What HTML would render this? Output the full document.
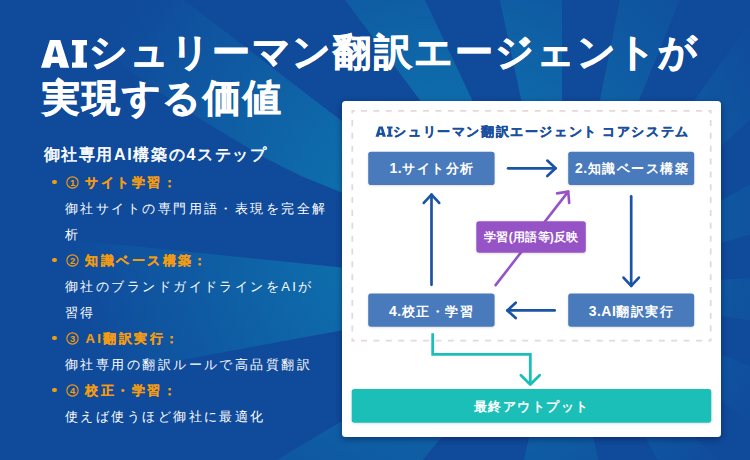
<!DOCTYPE html>
<html lang="ja">
<head>
<meta charset="utf-8">
<title>AIシュリーマン翻訳エージェントが実現する価値</title>
<style>
html,body{margin:0;padding:0;}
body{width:750px;height:460px;overflow:hidden;background:#104a9b;position:relative;font-family:"Liberation Sans",sans-serif;color:#fff;}
#bg{position:absolute;left:0;top:0;width:750px;height:460px;display:block;}
.t{position:absolute;white-space:nowrap;margin:0;}
.title{font-size:38px;font-weight:700;letter-spacing:0;line-height:44px;height:44px;}
.title b{-webkit-text-stroke:0.75px #fff;display:inline-block;text-align:center;font-weight:700;}
.l1 b{width:40.6px;}
.l2 b{width:40.3px;}
#ai{position:absolute;left:41px;top:39.8px;width:50px;height:28px;display:block;}
.sub{left:43.5px;top:143px;font-size:16px;font-weight:400;letter-spacing:1.65px;line-height:24px;-webkit-text-stroke:0.6px #fff;}
.sub b{font-weight:700;-webkit-text-stroke:0;}
.cn{position:absolute;left:65.5px;width:13px;height:13px;display:block;}
.h{left:85.4px;font-size:13px;font-weight:700;letter-spacing:2.44px;line-height:26px;color:#f39c12;-webkit-text-stroke:0.15px #f39c12;}
.d{left:65px;font-size:13px;font-weight:400;letter-spacing:2.44px;line-height:26px;color:#fff;}
.b{position:absolute;left:52.2px;width:4.4px;height:4.4px;border-radius:50%;background:#f39c12;}
#card{position:absolute;left:342px;top:101px;width:379px;height:336.3px;background:#fff;border-radius:3.5px;box-shadow:0 2px 6px rgba(0,8,40,.42);}
#dia{position:absolute;left:0;top:0;width:750px;height:460px;display:block;}
#dia text{font-family:"Liberation Sans",sans-serif;font-weight:700;}
</style>
</head>
<body>
<svg id="bg" viewBox="0 0 750 460">
<defs>
<radialGradient id="glow" gradientUnits="userSpaceOnUse" cx="440" cy="225" r="380">
<stop offset="0" stop-color="#0d7cb2"/><stop offset="1" stop-color="#104a9b"/>
</radialGradient>
</defs>
<rect width="750" height="460" fill="#104a9b"/>
<g fill="url(#glow)">
<polygon points="562,290 769.9,1268.1 343.9,1265.9"/>
<polygon points="562,290 -71.4,1063.8 -297.0,802.0"/>
<polygon points="562,290 -421.6,470.5 -432.8,188.1"/>
<polygon points="562,290 500,258 420,224 341.7,192.6 301,176 268,159.6 246,146.4 202,120 150,86 100,48 -200,-200 -231.4,-318.8"/>
<polygon points="562,290 -37.0,-510.7 134.6,-614.1"/>
<polygon points="562,290 352.4,-687.8 562.0,-710.0"/>
<polygon points="562,290 757.9,-690.6 938.2,-636.5"/>
<polygon points="562,290 1135.6,-529.2 1303.3,-381.1"/>
<polygon points="562,290 1434.0,-199.6 1521.0,6.5"/>
<polygon points="562,290 1560.0,226.8 1549.1,450.3"/>
<polygon points="562,290 1488.7,665.7 1382.0,862.3"/>
<polygon points="562,290 1234.3,1030.3 1052.9,1161.2"/>
</g>
</svg>

<svg id="ai" viewBox="0 0 50 28" aria-label="AI">
<path fill="#fff" fill-rule="evenodd" d="M0 27.8L8.9 0H19.3L28.2 27.8H19.2L17.7 23H10.5L9 27.8ZM14.1 5.6L17.1 16.8H11.1Z"/>
<path fill="#fff" d="M31 0H46V5.2H42.4V22.6H46V27.8H31V22.6H34.6V5.2H31Z"/>
</svg>
<div class="t title l1" style="left:88.6px;top:29.5px"><b>シ</b><b>ュ</b><b>リ</b><b>ー</b><b>マ</b><b>ン</b><b>翻</b><b>訳</b><b>エ</b><b>ー</b><b>ジ</b><b>ェ</b><b>ン</b><b>ト</b><b>が</b></div>
<div class="t title l2" style="left:40.8px;top:75.5px"><b>実</b><b>現</b><b>す</b><b>る</b><b>価</b><b>値</b></div>

<div class="t sub">御社専用<b>AI</b>構築の<b>4</b>ステップ</div>

<i class="b" style="top:179.7px"></i>
<svg class="cn" style="top:175.8px" viewBox="0 0 13 13"><circle cx="6.5" cy="6.5" r="5.65" fill="none" stroke="#f39c12" stroke-width="1.1"/><text x="6.5" y="9.8" text-anchor="middle" font-size="9.4" font-weight="700" fill="#f39c12" font-family="Liberation Sans,sans-serif">1</text></svg>
<div class="t h" style="top:170px">サイト学習：</div>
<div class="t d" style="top:196px">御社サイトの専門用語・表現を完全解</div>
<div class="t d" style="top:222px">析</div>
<i class="b" style="top:257.7px"></i>
<svg class="cn" style="top:253.8px" viewBox="0 0 13 13"><circle cx="6.5" cy="6.5" r="5.65" fill="none" stroke="#f39c12" stroke-width="1.1"/><text x="6.5" y="9.8" text-anchor="middle" font-size="9.4" font-weight="700" fill="#f39c12" font-family="Liberation Sans,sans-serif">2</text></svg>
<div class="t h" style="top:248px">知識ベース構築：</div>
<div class="t d" style="top:274px">御社のブランドガイドラインをAIが</div>
<div class="t d" style="top:300px">習得</div>
<i class="b" style="top:335.7px"></i>
<svg class="cn" style="top:331.8px" viewBox="0 0 13 13"><circle cx="6.5" cy="6.5" r="5.65" fill="none" stroke="#f39c12" stroke-width="1.1"/><text x="6.5" y="9.8" text-anchor="middle" font-size="9.4" font-weight="700" fill="#f39c12" font-family="Liberation Sans,sans-serif">3</text></svg>
<div class="t h" style="top:326px">AI翻訳実行：</div>
<div class="t d" style="top:352px">御社専用の翻訳ルールで高品質翻訳</div>
<i class="b" style="top:387.7px"></i>
<svg class="cn" style="top:383.8px" viewBox="0 0 13 13"><circle cx="6.5" cy="6.5" r="5.65" fill="none" stroke="#f39c12" stroke-width="1.1"/><text x="6.5" y="9.8" text-anchor="middle" font-size="9.4" font-weight="700" fill="#f39c12" font-family="Liberation Sans,sans-serif">4</text></svg>
<div class="t h" style="top:378px">校正・学習：</div>
<div class="t d" style="top:404px">使えば使うほど御社に最適化</div>

<div id="card"></div>
<svg id="dia" viewBox="0 0 750 460">
<defs><filter id="bs" x="-5%" y="-20%" width="110%" height="150%"><feDropShadow dx="0" dy="0.8" stdDeviation="0.8" flood-color="#000" flood-opacity="0.14"/></filter></defs>
<rect x="352.29999999999995" y="110.9" width="358.40000000000003" height="229.8" fill="#ffffff"/><path d="M351.40 110.90H354.80M708.20 110.90H711.60M361.00 110.90H367.00M373.41 110.90H379.41M385.81 110.90H391.81M398.22 110.90H404.22M410.63 110.90H416.63M423.04 110.90H429.04M435.44 110.90H441.44M447.85 110.90H453.85M460.26 110.90H466.26M472.67 110.90H478.67M485.07 110.90H491.07M497.48 110.90H503.48M509.89 110.90H515.89M522.30 110.90H528.30M534.70 110.90H540.70M547.11 110.90H553.11M559.52 110.90H565.52M571.93 110.90H577.93M584.33 110.90H590.33M596.74 110.90H602.74M609.15 110.90H615.15M621.56 110.90H627.56M633.96 110.90H639.96M646.37 110.90H652.37M658.78 110.90H664.78M671.19 110.90H677.19M683.59 110.90H689.59M696.00 110.90H702.00M351.40 340.70H354.80M708.20 340.70H711.60M361.00 340.70H367.00M373.41 340.70H379.41M385.81 340.70H391.81M398.22 340.70H404.22M410.63 340.70H416.63M423.04 340.70H429.04M435.44 340.70H441.44M447.85 340.70H453.85M460.26 340.70H466.26M472.67 340.70H478.67M485.07 340.70H491.07M497.48 340.70H503.48M509.89 340.70H515.89M522.30 340.70H528.30M534.70 340.70H540.70M547.11 340.70H553.11M559.52 340.70H565.52M571.93 340.70H577.93M584.33 340.70H590.33M596.74 340.70H602.74M609.15 340.70H615.15M621.56 340.70H627.56M633.96 340.70H639.96M646.37 340.70H652.37M658.78 340.70H664.78M671.19 340.70H677.19M683.59 340.70H689.59M696.00 340.70H702.00M352.30 110.00V113.40M352.30 338.20V341.60M352.30 120.00V126.00M352.30 132.85V138.85M352.30 145.70V151.70M352.30 158.55V164.55M352.30 171.40V177.40M352.30 184.25V190.25M352.30 197.10V203.10M352.30 209.95V215.95M352.30 222.80V228.80M352.30 235.65V241.65M352.30 248.50V254.50M352.30 261.35V267.35M352.30 274.20V280.20M352.30 287.05V293.05M352.30 299.90V305.90M352.30 312.75V318.75M352.30 325.60V331.60M710.70 110.00V113.40M710.70 338.20V341.60M710.70 120.00V126.00M710.70 132.85V138.85M710.70 145.70V151.70M710.70 158.55V164.55M710.70 171.40V177.40M710.70 184.25V190.25M710.70 197.10V203.10M710.70 209.95V215.95M710.70 222.80V228.80M710.70 235.65V241.65M710.70 248.50V254.50M710.70 261.35V267.35M710.70 274.20V280.20M710.70 287.05V293.05M710.70 299.90V305.90M710.70 312.75V318.75M710.70 325.60V331.60" fill="none" stroke="#e3d9da" stroke-width="1.8"/>
<g transform="translate(375.5 126.5) scale(0.3705)" fill="#1b4f9f"><path fill-rule="evenodd" d="M0 27.8L8.9 0H19.3L28.2 27.8H19.2L17.7 23H10.5L9 27.8ZM14.1 5.6L17.1 16.8H11.1Z"/><path d="M31 0H46V5.2H42.4V22.6H46V27.8H31V22.6H34.6V5.2H31Z"/></g>
<text x="393.3" y="135.8" font-size="13" letter-spacing="1.62" fill="#1b4f9f" stroke="#1b4f9f" stroke-width="0.3">シュリーマン翻訳エージェント<tspan dx="4.2">コアシステム</tspan></text>
<g fill="#4a7abb" filter="url(#bs)">
<rect x="368.2" y="151.7" width="126.4" height="33.3" rx="2.8"/>
<rect x="568.2" y="151.7" width="126" height="33.3" rx="2.8"/>
<rect x="368.2" y="293.6" width="126.4" height="33.2" rx="2.8"/>
<rect x="568.2" y="293.6" width="126" height="33.2" rx="2.8"/>
</g>
<text x="432" y="172.8" text-anchor="middle" font-size="13" letter-spacing="1.5" fill="#fff"><tspan font-size="14" letter-spacing="0.5">1.</tspan>サイト分析</text>
<text x="632" y="172.8" text-anchor="middle" font-size="13" letter-spacing="1.5" fill="#fff"><tspan font-size="14" letter-spacing="0.5">2.</tspan>知識ベース構築</text>
<text x="431.5" y="315.6" text-anchor="middle" font-size="13" letter-spacing="1.5" fill="#fff"><tspan font-size="14" letter-spacing="0.5">4.</tspan>校正・学習</text>
<text x="631.5" y="315.6" text-anchor="middle" font-size="13" letter-spacing="1.5" fill="#fff"><tspan font-size="14" letter-spacing="0.5">3.AI</tspan>翻訳実行</text>
<g fill="none" stroke="#1b54a6" stroke-width="2.7" stroke-linecap="round" stroke-linejoin="round">
<path d="M508.1 168.3 L555.6 168.3"/><path d="M547.3 160.6 L555.6 168.3 L547.3 176.0"/>
<path d="M554.7 310.4 L507.4 310.4"/><path d="M515.7 318.1 L507.4 310.4 L515.7 302.7"/>
<path d="M631.2 196.3 L631.2 285.9"/><path d="M638.9 277.6 L631.2 285.9 L623.5 277.6"/>
<path d="M431.5 284.8 L431.5 194.6"/><path d="M423.8 202.9 L431.5 194.6 L439.2 202.9"/>
</g>
<g fill="none" stroke="#9653c5" stroke-width="2.6" stroke-linecap="round" stroke-linejoin="round">
<path d="M495.6 285.1 L568.2 191.6"/><path d="M557.0 193.4 L568.2 191.6 L569.2 202.9"/>
</g>
<rect x="476.3" y="221.2" width="109.5" height="31.6" rx="2.8" fill="#9653c5" filter="url(#bs)"/>
<text x="531.4" y="241.4" text-anchor="middle" font-size="12" letter-spacing="0.3" fill="#fff">学習<tspan font-size="12" letter-spacing="0.3">(</tspan>用語等<tspan font-size="12" letter-spacing="0.3">)</tspan>反映</text>
<g fill="none" stroke="#1abfb7" stroke-width="2.8" stroke-linecap="butt" stroke-linejoin="miter">
<path d="M432.7 333.3 L432.7 354.3 L530.3 354.3 L530.3 384.2"/>
<path d="M520.9 375.2L530.3 384.5L539.7 375.2" stroke-linecap="round" stroke-linejoin="round"/>
</g>
<rect x="351.7" y="388.9" width="359.6" height="33.9" rx="2.8" fill="#1abfb7" filter="url(#bs)"/>
<text x="531.5" y="410.6" text-anchor="middle" font-size="13" letter-spacing="1.5" fill="#fff">最終アウトプット</text>
</svg>
</body>
</html>
